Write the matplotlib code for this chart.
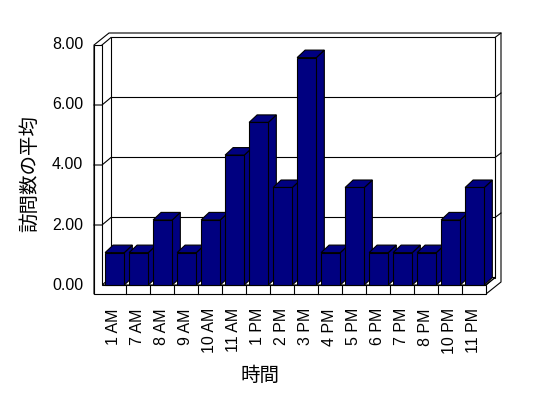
import numpy as np
import matplotlib
matplotlib.use('Agg')
import matplotlib.pyplot as plt
from matplotlib.patches import Polygon, Rectangle

plt.rcParams['font.family'] = ['Liberation Sans', 'Noto Sans CJK JP', 'DejaVu Sans']

#data :
hours = ['1 AM', '7 AM', '8 AM', '9 AM', '10 AM', '11 AM', '1 PM', '2 PM',
         '3 PM', '4 PM', '5 PM', '6 PM', '7 PM', '8 PM', '10 PM', '11 PM']
visits = [1.08, 1.08, 2.17, 1.08, 2.17, 4.33, 5.42, 3.25,
          7.58, 1.08, 3.25, 1.08, 1.08, 1.08, 2.17, 3.25]
yticks = [0, 2, 4, 6, 8]
ylabel = '訪問数の平均'
xlabel = '時間'

navy = '#000080'
n = len(hours)
ymax = 8

#depth vectors (x in category units, y in value units) :
W, F = 8 / 24, 9 / 30          # left wall / floor thickness
dix, diy = 9 / 24, 7.5 / 30    # back wall depth
dox, doy = 15 / 24, 12 / 30    # outer box depth
dbx, dby = 8 / 24, 7.5 / 30    # bar depth

fig = plt.figure(figsize=(5.48, 3.98), dpi=100)
# px = 102 + 24*x ,  py = 285 - 30*y
ax = fig.add_axes([90 / 548, (398 - 300) / 398, 420 / 548, 273 / 398])
ax.set_xlim(-0.5, 17)
ax.set_ylim(-0.5, 8.6)
ax.axis('off')

lw = 0.8
k = dict(facecolor='white', edgecolor='black', linewidth=lw)

#outer silhouette :
ax.add_patch(Polygon([(-W, -F), (-W, ymax), (-W + dox, ymax + doy), (n + dox, ymax + doy),
                      (n + dox, -F + doy), (n, -F)], closed=True, zorder=1, **k))
#back wall :
ax.add_patch(Rectangle((dix, diy), n, ymax, zorder=2, **k))
#floor top :
ax.add_patch(Polygon([(0, 0), (n, 0), (n + dix, diy), (dix, diy)], closed=True, zorder=2, **k))
#L shaped front (left wall face + floor face) :
ax.add_patch(Polygon([(-W, -F), (-W, ymax), (0, ymax), (0, 0), (n, 0), (n, -F)],
                     closed=True, zorder=3, **k))
for i in range(1, n):
    ax.plot([i, i], [-F, 0], color='black', lw=lw, zorder=3)

#edges of the box :
ax.plot([0, dix], [ymax, ymax + diy], color='black', lw=lw, zorder=3)
ax.plot([n + dix, n + dox], [ymax + diy, ymax + doy], color='black', lw=lw, zorder=3)
ax.plot([n, n + dix], [0, diy], color='black', lw=lw, zorder=3)

#gridlines :
for v in yticks[1:-1]:
    ax.plot([-W, 0, dix, n + dix, n + dox], [v, v, v + diy, v + diy, v + doy],
            color='black', lw=lw, zorder=3)

#bars :
a, bw = 0.13, 0.8
for i, v in enumerate(visits):
    x0, x1 = i + a, i + a + bw
    side = Polygon([(x1, 0), (x1, v), (x1 + dbx, v + dby), (x1 + dbx, dby)], closed=True,
                   facecolor=navy, edgecolor='black', linewidth=lw, zorder=4 + i * 0.01)
    top = Polygon([(x0, v), (x1, v), (x1 + dbx, v + dby), (x0 + dbx, v + dby)], closed=True,
                  facecolor=navy, edgecolor='black', linewidth=lw, zorder=4 + i * 0.01)
    front = Rectangle((x0, 0), bw, v, facecolor=navy, edgecolor='black', linewidth=lw,
                      zorder=4 + i * 0.01 + 0.005)
    ax.add_patch(side)
    ax.add_patch(top)
    ax.add_patch(front)

#tick labels :
for v in yticks:
    ax.text(-W - 0.45, v, '%.2f' % v, ha='right', va='center', fontsize=11.5)
for i, h in enumerate(hours):
    ax.text(i + 0.5, -0.77, h, rotation=90, ha='center', va='top', fontsize=11.5)

fig.text(30 / 548, 1 - 174 / 398, ylabel, rotation=90, ha='center', va='center', fontsize=14)
fig.text(260 / 548, 1 - 376 / 398, xlabel, ha='center', va='center', fontsize=14)

fig.savefig('out.png', dpi=100, facecolor='white')
